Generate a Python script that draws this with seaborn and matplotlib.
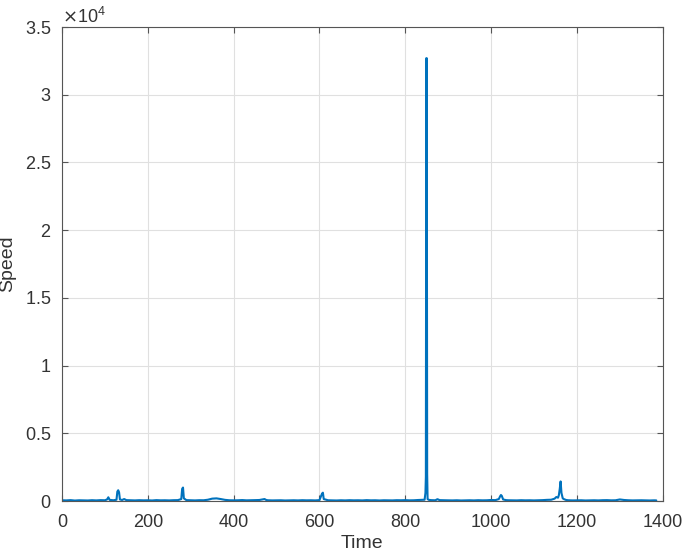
import numpy as np
import pandas as pd
import seaborn as sns
import matplotlib
matplotlib.use("Agg")
import matplotlib.pyplot as plt
from matplotlib.ticker import ScalarFormatter

# time (s) and speed readings
time = [0, 10, 20, 30, 40, 50, 60, 70, 80, 90, 100, 105, 108, 111, 120, 127, 129, 131, 133, 135,
        140, 145, 150, 160, 170, 180, 190, 200, 210, 220, 230, 240, 250, 260, 270, 278, 280, 282,
        284, 290, 300, 310, 320, 330, 340, 350, 360, 370, 380, 390, 400, 410, 420, 430, 440, 450,
        460, 468, 472, 476, 480, 490, 500, 510, 520, 530, 540, 550, 560, 570, 580, 590, 600, 604,
        606, 608, 610, 620, 630, 640, 650, 660, 670, 680, 690, 700, 710, 720, 730, 740, 750, 760,
        770, 780, 790, 800, 810, 820, 830, 840, 845, 847, 848, 849, 850, 851, 852, 855, 860, 870,
        875, 880, 890, 900, 910, 920, 930, 940, 950, 960, 970, 980, 990, 1000, 1010, 1018, 1021,
        1023, 1025, 1028, 1035, 1040, 1050, 1060, 1070, 1080, 1090, 1100, 1110, 1120, 1130, 1140,
        1148, 1152, 1156, 1158, 1160, 1162, 1164, 1167, 1170, 1175, 1180, 1190, 1200, 1210, 1220,
        1230, 1240, 1250, 1260, 1270, 1280, 1290, 1300, 1310, 1320, 1330, 1340, 1350, 1360, 1370,
        1380, 1385]
speed = [60, 50, 70, 40, 60, 55, 45, 65, 50, 70, 60, 120, 280, 90, 60, 100, 700, 800, 650, 120,
         80, 150, 70, 60, 50, 65, 55, 60, 45, 70, 55, 60, 50, 65, 70, 150, 900, 1000,
         200, 70, 60, 50, 65, 60, 100, 180, 200, 150, 90, 60, 55, 60, 75, 55, 60, 70,
         80, 130, 150, 80, 60, 50, 55, 60, 45, 55, 60, 50, 65, 55, 60, 50, 70, 400,
         550, 620, 150, 60, 55, 45, 60, 50, 65, 55, 60, 50, 70, 55, 60, 45, 60, 55,
         50, 65, 60, 70, 55, 60, 80, 90, 100, 600, 1800, 32700, 32700, 2000, 150, 90, 70, 60,
         140, 70, 60, 55, 50, 60, 45, 55, 60, 50, 65, 55, 60, 80, 70, 150, 350,
         450, 380, 120, 70, 60, 55, 50, 65, 55, 60, 50, 60, 70, 90, 100,
         180, 300, 250, 450, 900, 1450, 600, 200, 140, 80, 60, 50, 55, 60, 45,
         55, 60, 50, 65, 70, 55, 60, 120, 80, 60, 50, 55, 60, 50, 45,
         55, 50]


class TrimFormatter(ScalarFormatter):
    # matlab-like tick labels: 0, 0.5, 1, 1.5 ...
    def _set_format(self):
        self.format = r"$\mathdefault{%g}$"


df = pd.DataFrame({"Time": time, "Speed": speed})

sns.set_theme(style="whitegrid")
plt.rcParams["font.family"] = ["Liberation Sans", "DejaVu Sans"]

fig = plt.figure(figsize=(6.85, 5.58), dpi=100)
ax = fig.add_axes([0.0905, 0.102, 0.877, 0.8496])
sns.lineplot(data=df, x="Time", y="Speed", ax=ax, color="#0072BD", linewidth=1.5)

ax.set_xlim(0, 1400)
ax.set_ylim(0, 35000)
ax.set_xticks(np.arange(0, 1401, 200))
ax.set_yticks(np.arange(0, 35001, 5000))

fmt = TrimFormatter(useMathText=True)
fmt.set_powerlimits((0, 0))
ax.yaxis.set_major_formatter(fmt)
ax.yaxis.get_offset_text().set_fontsize(13)
ax.yaxis.get_offset_text().set_color("#404040")

ax.set_facecolor("white")
ax.grid(True, color="#e0e0e0", linewidth=0.8)
for sp in ax.spines.values():
    sp.set_visible(True)
    sp.set_color("#555555")
    sp.set_linewidth(0.8)
ax.tick_params(direction="in", length=4, width=0.8, color="#555555", labelcolor="#333333",
               labelsize=13, top=True, right=True, bottom=True, left=True,
               labeltop=False, labelright=False)
ax.tick_params(axis="x", pad=9)
ax.tick_params(axis="y", pad=8)
ax.set_xlabel("Time", fontsize=14, color="#333333", labelpad=3)
ax.set_ylabel("Speed", fontsize=14, color="#333333", labelpad=6)

fig.savefig("out.png", dpi=100)
